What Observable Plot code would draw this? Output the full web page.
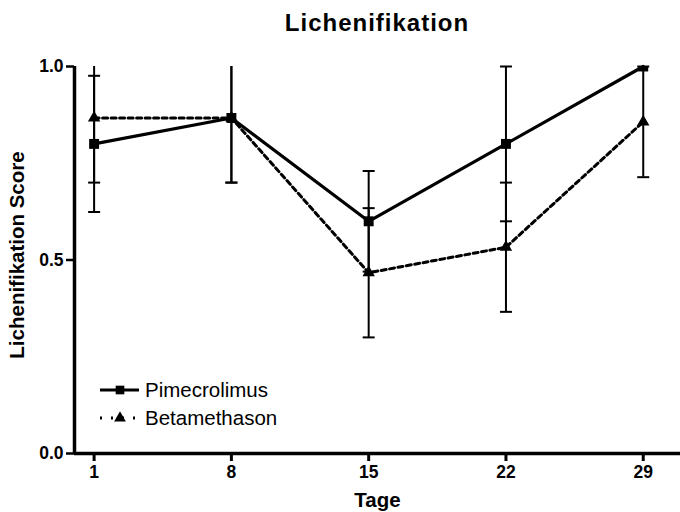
<!DOCTYPE html>
<html><head><meta charset="utf-8">
<script src="https://cdn.jsdelivr.net/npm/d3@7"></script>
<script src="https://cdn.jsdelivr.net/npm/@observablehq/plot@0.6"></script>
<style>
body{margin:0;background:#fff;font-family:"Liberation Sans",Arial,sans-serif;}
#wrap{position:relative;width:680px;height:512px;overflow:hidden;}
#title{box-sizing:border-box;height:50px;padding-top:11px;padding-left:74px;text-align:center;font-size:24px;line-height:24px;font-weight:bold;letter-spacing:1px;color:#000;}
#legend{position:absolute;left:95px;top:376px;font-size:20.5px;color:#000;}
#legend .row{display:flex;align-items:center;height:28px;}
#legend svg{margin-right:4px;}
</style></head><body>
<div id="wrap">
<div id="title">Lichenifikation</div>
<div id="chart"></div>
<div id="legend"></div>
</div>
<script>
const days = [1, 8, 15, 22, 29];
const seriesNames = ["Pimecrolimus", "Betamethason"];
const pimeMean = [0.80, 0.867, 0.60, 0.80, 1.00];
const pimeErr  = [0.176, 0.167, 0.13, 0.20, 0];
const betaMean = [0.867, 0.867, 0.467, 0.533, 0.857];
const betaErr  = [0.167, 0.167, 0.167, 0.167, 0.143];
const yTicks = [0, 0.5, 1];
const xLabel = "Tage";
const yLabel = "Lichenifikation Score";

const pime = days.map((d, i) => ({day: d, mean: pimeMean[i], err: pimeErr[i], series: seriesNames[0]}));
const beta = days.map((d, i) => ({day: d, mean: betaMean[i], err: betaErr[i], series: seriesNames[1]}));
const all = beta.concat(pime);
const withErr = all.filter(d => d.err > 0);
const caps = [];
withErr.forEach(d => { caps.push({day: d.day, y: d.mean + d.err}); caps.push({day: d.day, y: d.mean - d.err}); });
const visibleCaps = caps.filter(c => c.y <= 1.0005);

const capSymbol = {draw(ctx){ ctx.moveTo(-6, 0); ctx.lineTo(6, 0); }};

const chart = Plot.plot({
  width: 680,
  height: 462,
  marginLeft: 74,
  marginRight: 0,
  marginTop: 16,
  marginBottom: 59,
  style: {fontFamily: "Liberation Sans, Arial, sans-serif", fontSize: "17.5px", fontWeight: "bold", color: "#000", background: "#fff"},
  x: {domain: [0, 30.9]},
  y: {domain: [0, 1]},
  marks: [
    Plot.axisY({ticks: yTicks, tickFormat: d3.format(".1f"), tickSize: 8, tickPadding: 3, strokeWidth: 2.5, label: null}),
    Plot.axisX({ticks: days, tickFormat: d => String(d), tickSize: 8, tickPadding: 4, strokeWidth: 3, label: null}),
    Plot.ruleX([0], {strokeWidth: 3.5}),
    Plot.ruleY([0], {strokeWidth: 3.5}),
    Plot.text([yLabel], {frameAnchor: "left", textAnchor: "middle", rotate: -90, dx: -57, dy: -5, lineAnchor: "middle", fontSize: 20.5, fontWeight: "bold"}),
    Plot.text([xLabel], {frameAnchor: "bottom", textAnchor: "middle", dy: 47, lineAnchor: "middle", fontSize: 20.5, fontWeight: "bold"}),
    Plot.ruleX(withErr, {x: "day", y1: d => d.mean - d.err, y2: d => d.mean + d.err, strokeWidth: 2, clip: true}),
    Plot.dot(visibleCaps, {x: "day", y: "y", symbol: capSymbol, stroke: "black", fill: "none", strokeWidth: 2}),
    Plot.line(beta, {x: "day", y: "mean", strokeWidth: 3, strokeDasharray: "5,3.5"}),
    Plot.line(pime, {x: "day", y: "mean", strokeWidth: 3.2}),
    Plot.dot(beta, {x: "day", y: "mean", symbol: "triangle", r: 4.6, fill: "black", stroke: "none", clip: true}),
    Plot.dot(pime, {x: "day", y: "mean", symbol: "square", r: 5.6, fill: "black", stroke: "none", clip: true})
  ]
});
document.getElementById("chart").appendChild(chart);

// legend
const leg = d3.select("#legend");
const rows = [
  {name: seriesNames[0], dash: null, sym: d3.symbolSquare, size: 75},
  {name: seriesNames[1], dash: "2,9", sym: d3.symbolTriangle, size: 60}
];
rows.forEach(r => {
  const row = leg.append("div").attr("class", "row");
  const s = row.append("svg").attr("width", 46).attr("height", 28);
  s.append("line").attr("x1", 5).attr("x2", 44).attr("y1", 14).attr("y2", 14)
    .attr("stroke", "black").attr("stroke-width", r.dash ? 2.8 : 3.2)
    .attr("stroke-dasharray", r.dash);
  s.append("path").attr("d", d3.symbol(r.sym, r.size)()).attr("transform", "translate(25,14)").attr("fill", "black");
  row.append("span").text(r.name);
});
</script>
</body></html>
